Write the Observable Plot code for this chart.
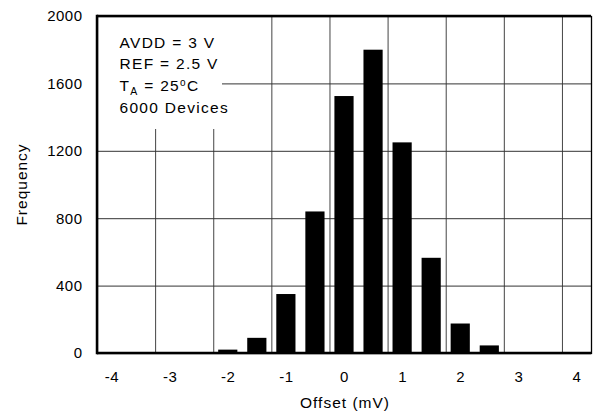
<!DOCTYPE html>
<html><head><meta charset="utf-8">
<script src="https://cdn.jsdelivr.net/npm/d3@7"></script>
<script src="https://cdn.jsdelivr.net/npm/@observablehq/plot@0.6"></script>
<style>
body{margin:0;background:#fff}
#chart svg{font-family:"Liberation Sans",Arial,Helvetica,sans-serif;font-size:15px;letter-spacing:0.5px;color:#000}
</style>
</head><body><div id="chart"></div>
<script>
// Histogram data (bin centres in mV, counts)
const offsets   = [-4,-3.5,-3,-2.5,-2,-1.5,-1,-0.5,0,0.5,1,1.5,2,2.5,3,3.5,4];
const frequency = [0,0,0,0,20,90,350,840,1525,1800,1250,565,175,45,0,0,0];
const xTicks = [-4,-3,-2,-1,0,1,2,3,4];
const xGrid  = [-3.25,-2.25,-1.25,-0.25,0.75,1.75,2.75,3.75];
const yTicks = [0,400,800,1200,1600,2000];
const yGrid  = [400,800,1200,1600];
const xDomain = [-4.25,4.25];
const yDomain = [0,2000];
const xLabel = "Offset (mV)";
const yLabel = "Frequency";
const noteLines = ["AVDD = 3 V","REF = 2.5 V",null,"6000 Devices"];

const data = offsets.map((x,i)=>({x, f: frequency[i]})).filter(d=>d.f>0);
const half = 0.165;

const W=593,H=417, mL=97, mR=2, mT=16, mB=64;

const plot = Plot.plot({
  width: W, height: H,
  marginLeft: mL, marginRight: mR, marginTop: mT, marginBottom: mB,
  x: {domain: xDomain},
  y: {domain: yDomain},
  marks: [
    Plot.ruleX(xGrid, {x: d=>d, stroke: "#444", strokeWidth: 1}),
    Plot.ruleY(yGrid, {y: d=>d, stroke: "#333", strokeWidth: 1}),
    Plot.rectY(data, {x1: d=>d.x-half, x2: d=>d.x+half, y: "f", fill: "#000"}),
    Plot.frame({stroke: "#000", strokeWidth: 1.3}),
    Plot.axisX({ticks: xTicks, tickSize: 0, tickPadding: 18, tickFormat: d=>String(d), label: null}),
    Plot.axisY({ticks: yTicks, tickSize: 0, tickPadding: 15, tickFormat: d=>String(d), label: null})
  ]
});
document.getElementById("chart").appendChild(plot);

const svg = d3.select(plot);
const sx = plot.scale("x"), sy = plot.scale("y");
const px0 = sx.apply(xDomain[0]), px1 = sx.apply(xDomain[1]);
const py0 = sy.apply(yDomain[0]), py1 = sy.apply(yDomain[1]);

// white background box behind the annotation
svg.insert("rect", "g[aria-label='rect']")
  .attr("x", px0).attr("y", py1).attr("width", 125).attr("height", 113).attr("fill", "#fff");

// thick plot frame edges
const frame = svg.append("g").attr("fill", "none");
frame.append("line").attr("x1", px0).attr("x2", px1).attr("y1", py1).attr("y2", py1)
  .attr("stroke", "#000").attr("stroke-width", 2.4);
frame.append("line").attr("x1", px0).attr("x2", px1).attr("y1", py0).attr("y2", py0)
  .attr("stroke", "#000").attr("stroke-width", 2.5);
frame.append("line").attr("x1", px0).attr("x2", px0).attr("y1", py1 - 1.2).attr("y2", py0 + 1.2)
  .attr("stroke", "#000").attr("stroke-width", 2.5);

const note = svg.append("g").attr("font-size", "15.5px").attr("letter-spacing", "1.3px")
  .attr("fill", "#000").attr("text-anchor", "start");
const baselines = [47.7, 69.3, 91, 112.7];
noteLines.forEach((t,i)=>{
  const tx = note.append("text").attr("x", 119.5).attr("y", baselines[i]);
  if (t !== null) tx.text(t);
  else {
    tx.append("tspan").text("T");
    tx.append("tspan").attr("font-size","10.5px").attr("dy", 4).text("A");
    tx.append("tspan").attr("dy", -4).text(" = 25");
    tx.append("tspan").attr("font-size","10px").attr("dy", -5).text("o");
    tx.append("tspan").attr("dy", 5).text("C");
  }
});

svg.append("text").attr("x", 345).attr("y", 408).attr("text-anchor","middle")
  .attr("font-size","15.5px").attr("letter-spacing","1px").text(xLabel);
svg.append("text").attr("transform","translate(27,184.5) rotate(-90)").attr("text-anchor","middle")
  .attr("font-size","15.5px").attr("letter-spacing","1px").text(yLabel);
</script>
</body></html>
